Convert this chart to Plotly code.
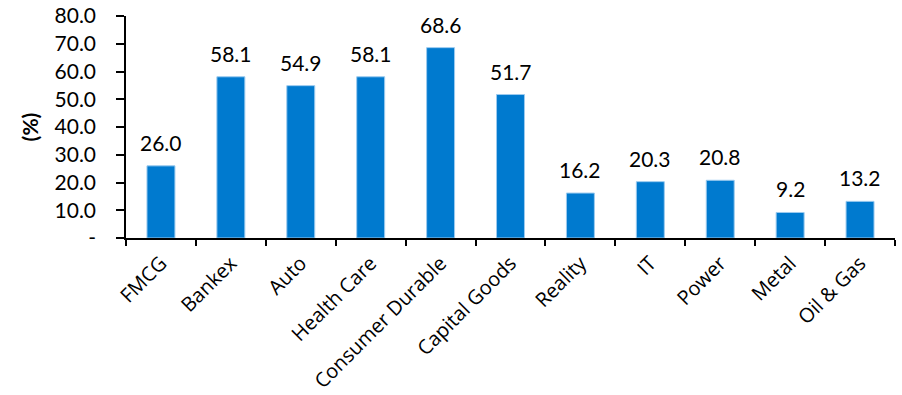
import plotly.graph_objects as go

sectors = ["FMCG", "Bankex", "Auto", "Health Care", "Consumer Durable",
           "Capital Goods", "Reality", "IT", "Power", "Metal", "Oil & Gas"]
returns_pct = [26.0, 58.1, 54.9, 58.1, 68.6, 51.7, 16.2, 20.3, 20.8, 9.2, 13.2]

y_ticks = [0, 10, 20, 30, 40, 50, 60, 70, 80]
y_tick_text = ["-", "10.0", "20.0", "30.0", "40.0", "50.0", "60.0", "70.0", "80.0"]

NUM_FONT = "Lato, Carlito, Calibri, sans-serif"
CAT_FONT = "Open Sans"
BAR = "#007ACF"

fig = go.Figure(go.Bar(
    x=sectors,
    y=returns_pct,
    width=0.4,
    marker=dict(color=BAR, line=dict(color="#9CCBEF", width=1)),
    hoverinfo="x+y",
))

for s, v in zip(sectors, returns_pct):
    fig.add_annotation(
        x=s, y=v, text=f"{v:.1f}", showarrow=False,
        yanchor="bottom", yshift=9,
        font=dict(family=NUM_FONT, size=21, color="#000000"),
    )

fig.update_layout(
    width=902, height=395,
    margin=dict(l=126, r=7, t=16, b=157),
    paper_bgcolor="white", plot_bgcolor="white",
    showlegend=False,
    font=dict(family=NUM_FONT, size=21, color="#000000"),
    xaxis=dict(
        type="category",
        tickangle=-45,
        automargin=False,
        showline=True, linecolor="#000000", linewidth=1.5,
        ticks="outside", tickson="boundaries", ticklen=6,
        tickcolor="#000000", tickwidth=1.5,
        ticklabelstandoff=4,
        showgrid=False,
        tickfont=dict(family=CAT_FONT, size=20, color="#000000"),
    ),
    yaxis=dict(
        range=[0, 80],
        tickvals=y_ticks, ticktext=y_tick_text,
        automargin=False,
        showline=True, linecolor="#000000", linewidth=1.5,
        ticks="outside", ticklen=8, tickcolor="#000000", tickwidth=1.5,
        ticklabelstandoff=16,
        showgrid=False, zeroline=False,
        title=dict(text="<b>(%)</b>", standoff=10,
                   font=dict(family=NUM_FONT, size=21)),
        tickfont=dict(family=NUM_FONT, size=21),
    ),
    bargap=0.6,
)

fig.write_html("out.html")
